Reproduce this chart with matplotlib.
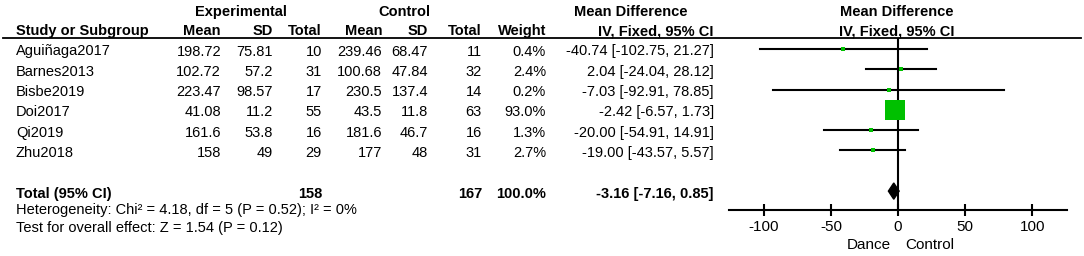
import numpy as np
import matplotlib.pyplot as plt
from matplotlib.patches import Polygon

plt.rcParams['font.family'] = ['Liberation Sans', 'DejaVu Sans']
plt.rcParams['axes.unicode_minus'] = False

# study data
studies = ['Aguiñaga2017', 'Barnes2013', 'Bisbe2019', 'Doi2017', 'Qi2019', 'Zhu2018']
exp_mean = [198.72, 102.72, 223.47, 41.08, 161.6, 158]
exp_sd = [75.81, 57.2, 98.57, 11.2, 53.8, 49]
exp_n = [10, 31, 17, 55, 16, 29]
ctl_mean = [239.46, 100.68, 230.5, 43.5, 181.6, 177]
ctl_sd = [68.47, 47.84, 137.4, 11.8, 46.7, 48]
ctl_n = [11, 32, 14, 63, 16, 31]
weights = [0.4, 2.4, 0.2, 93.0, 1.3, 2.7]
md = [-40.74, 2.04, -7.03, -2.42, -20.00, -19.00]
lo = [-102.75, -24.04, -92.91, -6.57, -54.91, -43.57]
hi = [21.27, 28.12, 78.85, 1.73, 14.91, 5.57]

# pooled
tot_exp, tot_ctl = 158, 167
pool_md, pool_lo, pool_hi = -3.16, -7.16, 0.85
het_text = 'Heterogeneity: Chi² = 4.18, df = 5 (P = 0.52); I² = 0%'
test_text = 'Test for overall effect: Z = 1.54 (P = 0.12)'
xticks = [-100, -50, 0, 50, 100]

W, H = 1084, 256
fig = plt.figure(figsize=(W / 100, H / 100), dpi=100)
tab = fig.add_axes([0, 0, 1, 1])
tab.set_xlim(0, W)
tab.set_ylim(H, 0)
tab.axis('off')

fs = 10.5
y0, dy = 49, 20.3  # pixel row layout
def rowy(r):
    return y0 + dy * r + 2.5

# headers
tab.text(241, 12, 'Experimental', ha='center', va='center', fontsize=fs, weight='bold')
tab.text(404, 12, 'Control', ha='center', va='center', fontsize=fs, weight='bold')
tab.text(631, 12, 'Mean Difference', ha='center', va='center', fontsize=fs, weight='bold')
tab.text(897, 12, 'Mean Difference', ha='center', va='center', fontsize=fs, weight='bold')
hdr = [(16, 'Study or Subgroup', 'left'), (221, 'Mean', 'right'), (273, 'SD', 'right'),
       (322, 'Total', 'right'), (382, 'Mean', 'right'), (428, 'SD', 'right'),
       (482, 'Total', 'right'), (546, 'Weight', 'right'), (714, 'IV, Fixed, 95% CI', 'right'),
       (897, 'IV, Fixed, 95% CI', 'center')]
for x, s, ha in hdr:
    tab.text(x, 31, s, ha=ha, va='center', fontsize=fs, weight='bold')
tab.plot([3, 1081], [38, 38], color='black', lw=1.3)

for i in range(len(studies)):
    y = rowy(i)
    cells = [(16, studies[i], 'left'), (221, f'{exp_mean[i]:g}', 'right'),
             (273, f'{exp_sd[i]:g}', 'right'), (322, str(exp_n[i]), 'right'),
             (382, f'{ctl_mean[i]:g}', 'right'), (428, f'{ctl_sd[i]:g}', 'right'),
             (482, str(ctl_n[i]), 'right'), (546, f'{weights[i]:.1f}%', 'right'),
             (714, f'{md[i]:.2f} [{lo[i]:.2f}, {hi[i]:.2f}]', 'right')]
    for x, s, ha in cells:
        tab.text(x, y, s, ha=ha, va='center', fontsize=fs)

yt = rowy(7)
for x, s, ha in [(16, 'Total (95% CI)', 'left'), (322, str(tot_exp), 'right'),
                 (482, str(tot_ctl), 'right'), (546, f'{sum(weights):.1f}%', 'right'),
                 (714, f'{pool_md:.2f} [{pool_lo:.2f}, {pool_hi:.2f}]', 'right')]:
    tab.text(x, yt, s, ha=ha, va='center', fontsize=fs, weight='bold')
tab.text(16, 210, het_text, ha='left', va='center', fontsize=fs)
tab.text(16, 228, test_text, ha='left', va='center', fontsize=fs)
tab.text(891, 245, 'Dance', ha='right', va='center', fontsize=11)
tab.text(905, 245, 'Control', ha='left', va='center', fontsize=11)

# forest plot
top, bot, left, right = 38, 210, 729, 1067
ax = fig.add_axes([left / W, (H - bot) / H, (right - left) / W, (bot - top) / H])
ax.set_xlim(-126, 126)
ax.set_ylim(7 + (bot - y0 - 7 * dy) / dy, -(y0 - top) / dy)
for s in ['top', 'left', 'right']:
    ax.spines[s].set_visible(False)
ax.spines['bottom'].set_linewidth(1.5)
ax.set_yticks([])
ax.set_xticks(xticks)
ax.tick_params(axis='x', direction='inout', length=8, width=1.5, labelsize=11, pad=3)
ax.patch.set_alpha(0)
ax.axvline(0, color='black', lw=1.5)

for i in range(len(studies)):
    ax.plot([lo[i], hi[i]], [i, i], color='black', lw=1.5)
    size = max(15.1 * np.sqrt(weights[i] / 93.0), 2.4)
    ax.plot(md[i], i, marker='s', ms=size, color='#00c000', mec='#00c000', mew=0, zorder=3)

hd = 0.4
ax.add_patch(Polygon([[pool_lo, 7], [pool_md, 7 - hd], [pool_hi, 7], [pool_md, 7 + hd]],
                     closed=True, color='black', zorder=3))

fig.savefig('out.png', dpi=100)
